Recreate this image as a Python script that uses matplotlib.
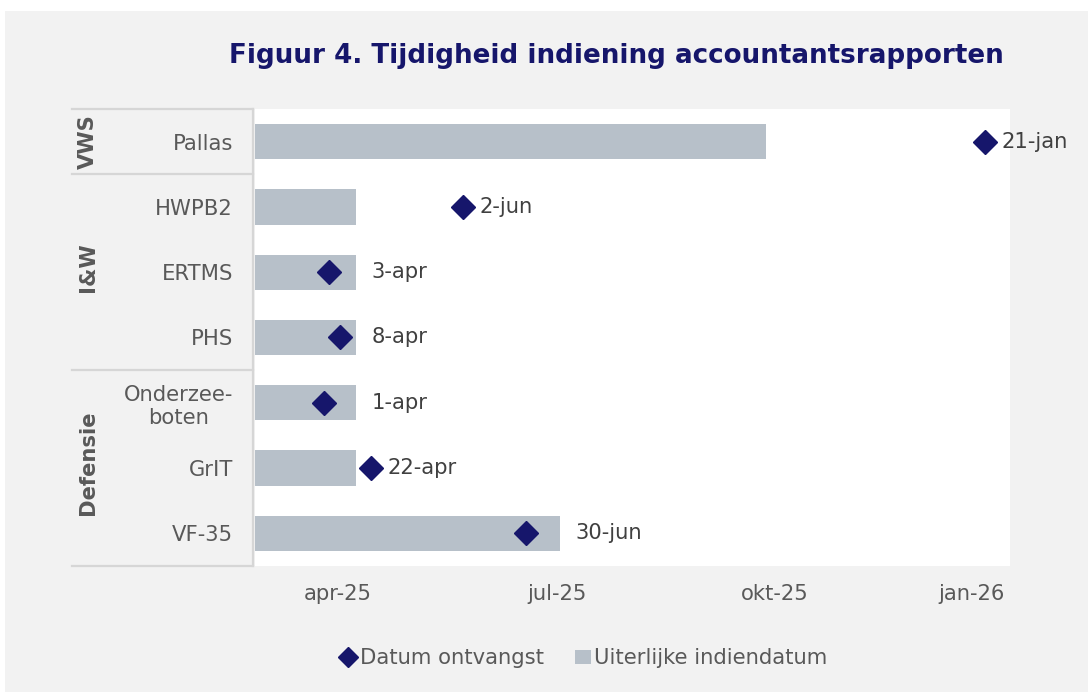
import matplotlib
matplotlib.use("Agg")
import matplotlib.pyplot as plt
import matplotlib.dates as mdates
from matplotlib.lines import Line2D
from matplotlib.patches import Patch, Rectangle
import matplotlib.transforms as mtransforms
import numpy as np
import datetime as dt

plt.rcParams['font.family'] = ['DejaVu Sans']

# ---- data ----
projects = ["Pallas", "HWPB2", "ERTMS", "PHS", "Onderzee-\nboten", "GrIT", "VF-35"]
ministries = ["VWS", "I&W", "I&W", "I&W", "Defensie", "Defensie", "Defensie"]
group_names = ["VWS", "I&W", "Defensie"]
deadline = ["2025-10-15", "2025-04-15", "2025-04-15", "2025-04-15",
            "2025-04-15", "2025-04-15", "2025-07-15"]
received = ["2026-01-21", "2025-06-02", "2025-04-03", "2025-04-08",
            "2025-04-01", "2025-04-22", "2025-06-30"]
received_labels = ["21-jan", "2-jun", "3-apr", "8-apr", "1-apr", "22-apr", "30-jun"]
axis_start = "2025-03-01"
axis_end = "2026-02-01"
tick_dates = ["2025-04-07", "2025-07-14", "2025-10-19", "2026-01-15"]
tick_labels = ["apr-25", "jul-25", "okt-25", "jan-26"]

# ---- styling ----
BG = "#f2f2f2"
BAR = "#b7c0c9"
NAVY = "#16166b"
TXT = "#595959"
LBL = "#404040"
GRID = "#d6d6d6"
FS = 15.2

def d(s):
    return mdates.date2num(dt.datetime.strptime(s, "%Y-%m-%d"))

start = d(axis_start)
end = d(axis_end)
dl = np.array([d(s) for s in deadline])
rc = np.array([d(s) for s in received])
y = np.arange(len(projects))

fig = plt.figure(figsize=(10.88, 6.92), dpi=100)
fig.patch.set_facecolor("white")
fig.add_artist(Rectangle((5 / 1088, 0), 1 - 5 / 1088, 1 - 11 / 692,
                         transform=fig.transFigure, facecolor=BG,
                         edgecolor="none", zorder=-10))

ax = fig.add_axes([255 / 1088, 1 - 566 / 692, 755 / 1088, 457 / 692])
ax.set_facecolor("white")

ax.barh(y, dl - start, left=start, height=0.54, color=BAR, zorder=2,
        label="Uiterlijke indiendatum")
ax.plot(rc, y, linestyle="none", marker="D", markersize=12.3, color=NAVY,
        zorder=3, label="Datum ontvangst")

ax.set_xlim(start, end)
ax.set_ylim(len(projects) - 0.5, -0.5)

# data labels
offset = mtransforms.offset_copy(ax.transData, fig=fig, x=16, y=0, units="dots")
for yi, r, dd, lab in zip(y, rc, dl, received_labels):
    xpos = max(r, dd)
    ax.text(xpos, yi, lab, transform=offset, ha="left", va="center",
            fontsize=FS, color=LBL, clip_on=False)

# axes styling
for s in ax.spines.values():
    s.set_visible(False)
ax.set_xticks([d(t) for t in tick_dates])
ax.set_xticklabels(tick_labels)
ax.tick_params(axis="x", length=0, pad=13, labelsize=FS, labelcolor=TXT)
ax.set_yticks(y)
ax.set_yticklabels(projects, multialignment="center")
ax.tick_params(axis="y", length=0, pad=16, labelsize=FS, labelcolor=TXT)

# left category panel lines
blend = mtransforms.blended_transform_factory(ax.transAxes, ax.transData)
x0 = (72 - 255) / 755
x1 = (253 - 255) / 755
bounds = [-0.5]
for i in range(1, len(ministries)):
    if ministries[i] != ministries[i - 1]:
        bounds.append(i - 0.5)
bounds.append(len(ministries) - 0.5)
for b in bounds:
    ax.add_line(Line2D([x0, x1], [b, b], transform=blend, color=GRID,
                       lw=1.6, clip_on=False, zorder=1))
ax.add_line(Line2D([x1, x1], [-0.5, len(ministries) - 0.5], transform=blend,
                   color=GRID, lw=1.6, clip_on=False, zorder=1))

# group labels
gx = (88 - 255) / 755
for g in group_names:
    idx = [i for i, m in enumerate(ministries) if m == g]
    yc = (min(idx) + max(idx)) / 2
    if len(idx) > 1:
        yc -= 0.08
    ax.text(gx, yc, g, transform=blend, rotation=90, ha="center", va="center",
            fontsize=FS, fontweight="bold", color=TXT, clip_on=False)

# title
fig.text(616 / 1088, 1 - 56 / 692, "Figuur 4. Tijdigheid indiening accountantsrapporten",
         ha="center", va="center", fontsize=18.8, fontweight="bold", color=NAVY)

# legend
handles = [Line2D([], [], linestyle="none", marker="D", markersize=10.5, color=NAVY),
           Patch(facecolor=BAR, edgecolor="none")]
leg = fig.legend(handles, ["Datum ontvangst", "Uiterlijke indiendatum"],
                 loc="center", bbox_to_anchor=(584 / 1088, 1 - 658 / 692),
                 ncol=2, frameon=False, fontsize=FS, handlelength=0.75,
                 handleheight=0.65, handletextpad=0.15, columnspacing=1.5)
for t in leg.get_texts():
    t.set_color(TXT)

fig.savefig("out.png", dpi=100, facecolor=fig.get_facecolor())
